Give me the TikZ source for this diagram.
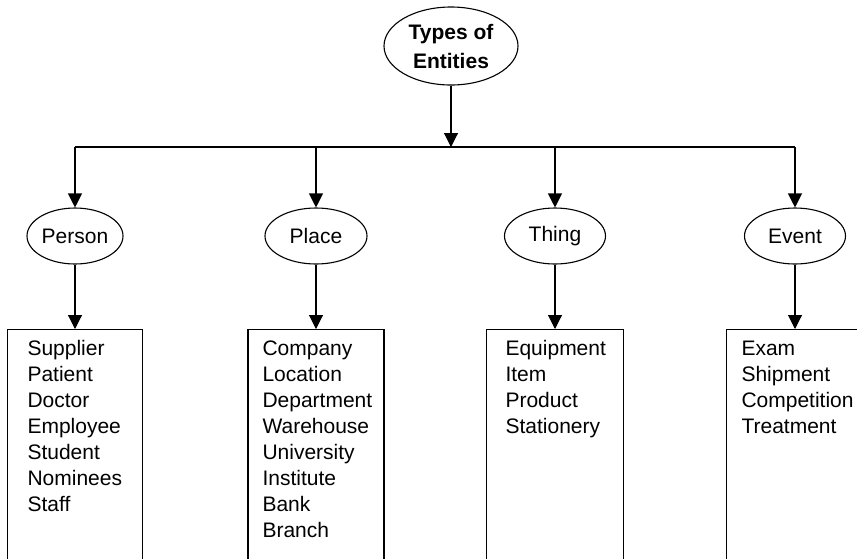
\documentclass[tikz,border=0pt]{standalone}
\usepackage{fontspec}
\setmainfont{Liberation Sans}
\usetikzlibrary{shapes.geometric,arrows.meta}
\begin{document}
\begin{tikzpicture}[x=1pt,y=-1pt,
  line width=1.1pt,
  arr/.style={-{Triangle[width=14pt,length=14pt]}},
  oval/.style={ellipse,draw,inner sep=0pt,minimum height=56pt,font=\fontsize{21}{26}\selectfont},
  listbox/.style={rectangle,draw,anchor=north,minimum height=300pt,inner sep=0pt},
  listtext/.style={anchor=base west,align=left,inner sep=0pt,font=\fontsize{21}{26}\selectfont}]
\useasboundingbox (0,0) rectangle (857,558);
\clip (0,0) rectangle (857,558);
\node[ellipse,draw,inner sep=0pt,minimum width=134pt,minimum height=78pt,align=center,
  font=\bfseries\fontsize{21}{29}\selectfont] (top) at (451,46) {Types of\\Entities};
\coordinate (hl) at (0,147);
\node[oval,minimum width=96pt] (person) at (75,236) {Person};
\node[oval,minimum width=102pt] (place) at (316,236) {Place};
\node[oval,minimum width=101pt] (thing) at (555,236) {Thing};
\node[oval,minimum width=101pt] (event) at (795,236) {Event};
\node[listbox,minimum width=135pt] (pbox) at (75,329) {};
\node[listbox,minimum width=136pt] (plbox) at (316,329) {};
\node[listbox,minimum width=137pt] (tbox) at (555,329) {};
\node[listbox,minimum width=137pt] (ebox) at (795,329) {};
\node[listtext] (ptext) at (27,511) {Supplier\\Patient\\Doctor\\Employee\\Student\\Nominees\\Staff};
\node[listtext] (pltext) at (262,537) {Company\\Location\\Department\\Warehouse\\University\\Institute\\Bank\\Branch};
\node[listtext] (ttext) at (505,433) {Equipment\\Item\\Product\\Stationery};
\node[listtext] (etext) at (741,433) {Exam\\Shipment\\Competition\\Treatment};
\draw[arr] (top.south) -- (top.south |- hl);
\draw (person.north |- hl) -- (event.north |- hl);
\draw[arr] (person.north |- hl) -- (person.north);
\draw[arr] (place.north |- hl) -- (place.north);
\draw[arr] (thing.north |- hl) -- (thing.north);
\draw[arr] (event.north |- hl) -- (event.north);
\draw[arr] (person.south) -- (pbox.north);
\draw[arr] (place.south) -- (plbox.north);
\draw[arr] (thing.south) -- (tbox.north);
\draw[arr] (event.south) -- (ebox.north);
\end{tikzpicture}
\end{document}
